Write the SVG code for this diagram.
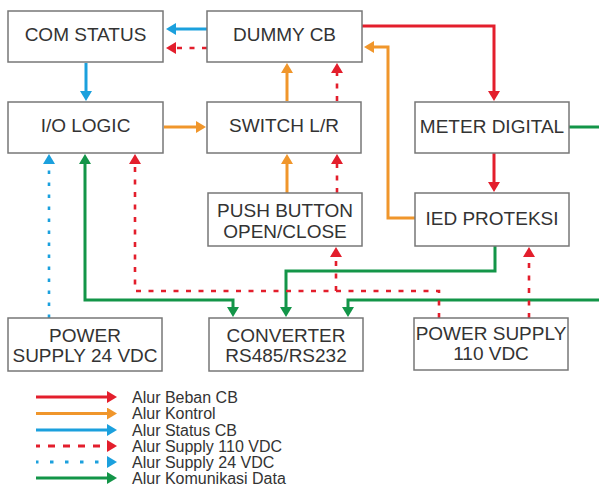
<svg xmlns="http://www.w3.org/2000/svg" width="599" height="486" viewBox="0 0 599 486">
<style>
.box{fill:#fff;stroke:#777;stroke-width:1.5}
.t{font-family:"Liberation Sans",Arial,sans-serif;font-size:19px;fill:#333;text-anchor:middle}
.lt{font-family:"Liberation Sans",Arial,sans-serif;font-size:16px;fill:#333}
.c{fill:none;stroke-width:3}
.red{stroke:#e31e2c}
.org{stroke:#f0962b}
.blu{stroke:#1ba0dd}
.grn{stroke:#139548}
.rd{stroke:#e31e2c;stroke-width:2.6;stroke-dasharray:5 7.5}
.bd{stroke:#1ba0dd;stroke-width:2.6;stroke-dasharray:3.5 8.5}
.mr{marker-end:url(#ar)}
.mo{marker-end:url(#ao)}
.mb{marker-end:url(#ab)}
.mg{marker-end:url(#ag)}
</style>
<defs>
<marker id="ar" markerUnits="userSpaceOnUse" markerWidth="10" markerHeight="12" refX="0" refY="6" orient="auto-start-reverse"><path d="M0,0 L10,6 L0,12 z" fill="#e31e2c"/></marker>
<marker id="ao" markerUnits="userSpaceOnUse" markerWidth="10" markerHeight="12" refX="0" refY="6" orient="auto-start-reverse"><path d="M0,0 L10,6 L0,12 z" fill="#f0962b"/></marker>
<marker id="ab" markerUnits="userSpaceOnUse" markerWidth="10" markerHeight="12" refX="0" refY="6" orient="auto-start-reverse"><path d="M0,0 L10,6 L0,12 z" fill="#1ba0dd"/></marker>
<marker id="ag" markerUnits="userSpaceOnUse" markerWidth="10" markerHeight="12" refX="0" refY="6" orient="auto-start-reverse"><path d="M0,0 L10,6 L0,12 z" fill="#139548"/></marker>
</defs>
<rect width="599" height="486" fill="#fff"/>

<g id="connectors">
<path class="c blu mb" d="M207,29 H176"/>
<path class="c rd mr" d="M207,48 H176"/>
<path class="c blu mb" d="M86,63 V91"/>
<path class="c org mo" d="M164,127 H196"/>
<path class="c org mo" d="M287,101 V73"/>
<path class="c rd mr" d="M337,101 V73"/>
<path class="c red mr" d="M362,26 H494 V91"/>
<path class="c org mo" d="M415,218 H388 V47 H374"/>
<path class="c red mr" d="M494,153 V182"/>
<path class="c grn mg" d="M569,127 H606 V300 H348 V307"/>
<path class="c grn mg" d="M495,246 V271 H286 V307"/>
<path class="c grn mg" style="marker-start:url(#ag)" d="M85,164 V300 H233 V307"/>
<path class="c bd mb" d="M49,318 V164"/>
<path class="c rd mr" d="M439,318 V291 H135 V164"/>
<path class="c rd mr" d="M336,291 V257"/>
<path class="c org mo" d="M287,193 V164"/>
<path class="c rd mr" d="M337,193 V164"/>
<path class="c rd mr" d="M529,318 V257"/>
</g>

<g id="com-status"><rect class="box" x="8" y="11" width="155" height="51"/><text class="t" x="85.5" y="41.3">COM STATUS</text></g>
<g id="dummy-cb"><rect class="box" x="207" y="11" width="155" height="51"/><text class="t" x="284.5" y="41.3">DUMMY CB</text></g>
<g id="io-logic"><rect class="box" x="8" y="102" width="155" height="51"/><text class="t" x="85.5" y="132">I/O LOGIC</text></g>
<g id="switch-lr"><rect class="box" x="207" y="102" width="154" height="51"/><text class="t" x="284" y="132">SWITCH L/R</text></g>
<g id="meter-digital"><rect class="box" x="415" y="102" width="154" height="51"/><text class="t" x="492" y="133">METER DIGITAL</text></g>
<g id="push-button"><rect class="box" x="208" y="193" width="154" height="53"/><text class="t" x="285" y="216.5">PUSH BUTTON</text><text class="t" x="285" y="238">OPEN/CLOSE</text></g>
<g id="ied-proteksi"><rect class="box" x="415" y="193" width="154" height="53"/><text class="t" x="492" y="224.7">IED PROTEKSI</text></g>
<g id="power-supply-24"><rect class="box" x="8" y="318" width="154" height="53"/><text class="t" x="85" y="341.5">POWER</text><text class="t" x="85" y="361.5">SUPPLY 24 VDC</text></g>
<g id="converter"><rect class="box" x="209" y="318" width="154" height="53"/><text class="t" x="286" y="341.5">CONVERTER</text><text class="t" x="286" y="361.5">RS485/RS232</text></g>
<g id="power-supply-110"><rect class="box" x="414" y="318" width="154" height="52"/><text class="t" x="491" y="340">POWER SUPPLY</text><text class="t" x="491" y="360">110 VDC</text></g>

<g id="legend">
<path class="c red mr" d="M36,397 H107"/>
<path class="c org mo" d="M36,413.5 H107"/>
<path class="c blu mb" d="M36,430 H107"/>
<path class="c mr" stroke="#e31e2c" stroke-width="2.6" stroke-dasharray="7 8" stroke-dashoffset="3" d="M36,446 H107"/>
<path class="c mb" stroke="#1ba0dd" stroke-width="2.6" stroke-dasharray="3.5 11.5" stroke-dashoffset="1" d="M36,462 H107"/>
<path class="c grn mg" d="M36,478 H107"/>
<text class="lt" x="132" y="402.5">Alur Beban CB</text>
<text class="lt" x="132" y="419">Alur Kontrol</text>
<text class="lt" x="132" y="435.5">Alur Status CB</text>
<text class="lt" x="132" y="451.5">Alur Supply 110 VDC</text>
<text class="lt" x="132" y="467.5">Alur Supply 24 VDC</text>
<text class="lt" x="132" y="483.5">Alur Komunikasi Data</text>
</g>
</svg>
